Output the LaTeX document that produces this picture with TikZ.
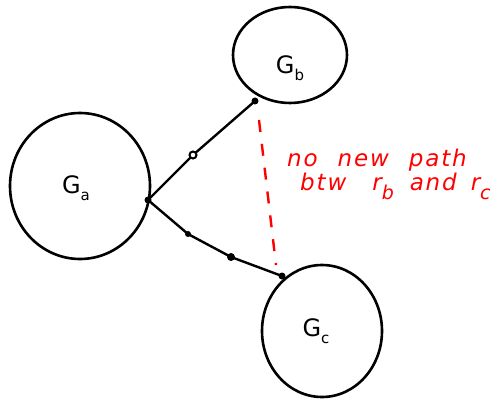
\documentclass[tikz,border=0pt]{standalone}
\usepackage{fontspec}
\setmainfont{DejaVu Sans}
\newfontfamily\handfont[LetterSpace=8]{DejaVu Sans}
\usetikzlibrary{shapes.geometric}
\definecolor{pen}{RGB}{255,0,0}
\newcommand{\lowsub}[1]{\raisebox{-0.5ex}{\fontsize{15}{15}\selectfont #1}}
\newcommand{\notesub}[1]{\raisebox{-0.7ex}{\fontsize{19}{19}\selectfont #1}}
\tikzset{
  blob/.style={ellipse, draw=black, line width=2.6pt, inner sep=0pt},
  edge/.style={draw=black, line width=2.4pt, line cap=round, line join=round},
  vdot/.style={circle, fill=black, inner sep=0pt, minimum size=7pt},
  odot/.style={circle, draw=black, line width=2pt, fill=white, inner sep=0pt, minimum size=7pt},
  glabel/.style={font=\fontsize{24}{26}\selectfont},
  note/.style={text=pen, font=\handfont\itshape\fontsize{23}{25}\selectfont, anchor=west, inner sep=0pt},
}
\begin{document}
\begin{tikzpicture}[x=1pt,y=-1pt]
\useasboundingbox (0,0) rectangle (500,401);
\node[blob, minimum width=140pt, minimum height=146pt] (ga) at (80,186) {};
\node[blob, minimum width=114pt, minimum height=96pt] (gb) at (290,55) {};
\node[blob, minimum width=120pt, minimum height=132pt] (gc) at (322,331) {};
\node[glabel] (la) at (76,188) {G\lowsub{a}};
\node[glabel] (lb) at (290,68) {G\lowsub{b}};
\node[glabel] (lc) at (316,331) {G\lowsub{c}};
\coordinate (j) at (148,200);
\coordinate (pb) at (255,101);
\coordinate (pc) at (282,276);
\coordinate (o1) at (193,155);
\coordinate (d1) at (188,234);
\coordinate (d2) at (231,257);
\draw[edge] (j) -- (o1) -- (pb);
\draw[edge] (j) -- (d1) -- (d2) -- (pc);
\node[vdot] (nj) at (j) {};
\node[vdot] (nb) at (pb) {};
\node[vdot] (nc) at (pc) {};
\node[odot] (no1) at (o1) {};
\node[vdot, minimum size=6pt] (nd1) at (d1) {};
\node[vdot, minimum size=8pt] (nd2) at (d2) {};
\coordinate (r1) at (259,120);
\coordinate (r2) at (276,265);
\draw[pen, line width=2.4pt, dash pattern=on 12pt off 12pt] (r1) -- (r2);
\node[note] (t1) at (287,160) {no\hspace{20pt}new\hspace{20pt}path};
\node[note] (t2) at (300,186) {btw\hspace{26pt}r\notesub{b}\hspace{16pt}and\hspace{14pt}r\notesub{c}};
\end{tikzpicture}
\end{document}
